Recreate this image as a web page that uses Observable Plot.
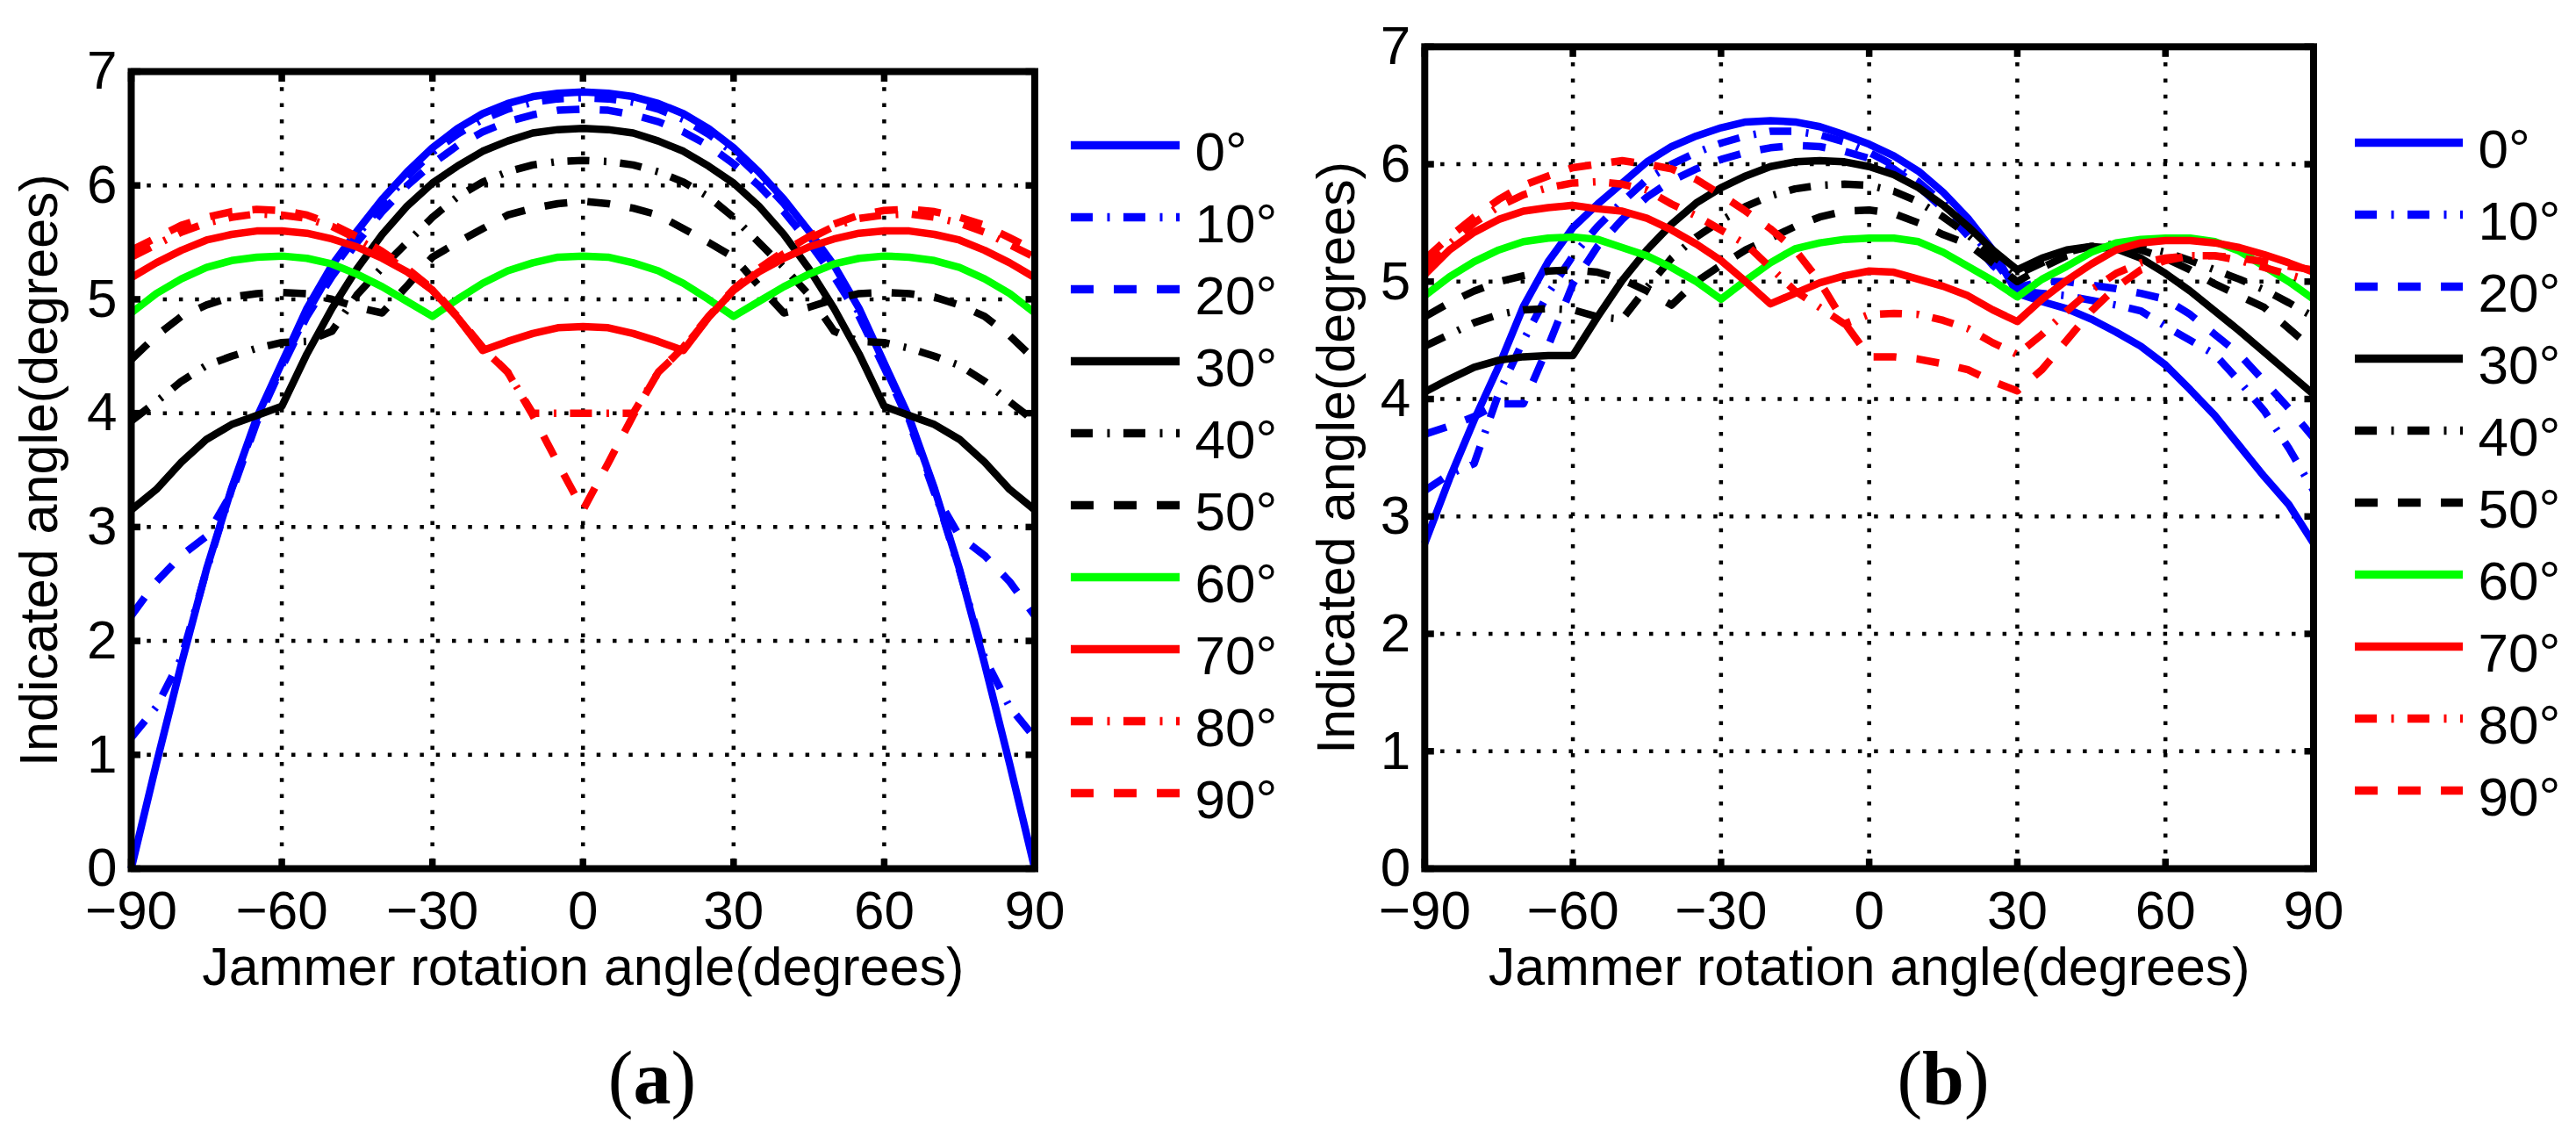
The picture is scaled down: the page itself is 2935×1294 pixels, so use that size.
<!DOCTYPE html>
<html>
<head>
<meta charset="utf-8">
<script src="https://cdn.jsdelivr.net/npm/d3@7"></script>
<script src="https://cdn.jsdelivr.net/npm/@observablehq/plot@0.6"></script>
<style>
html, body { margin: 0; padding: 0; background: #fff; }
#page { position: relative; width: 2935px; height: 1294px; overflow: hidden; background: #fff; }
.abs { position: absolute; top: 0; }
.cap { position: absolute; width: 400px; text-align: center; font-family: "Liberation Serif", "Times New Roman", serif; font-size: 86px; line-height: 86px; color: #000; }
.cap b { font-weight: bold; }
</style>
</head>
<body>
<div id="page"></div>
<script>
// ---------------- data ----------------
const angles = [-90,-85,-80,-75,-70,-65,-60,-55,-50,-45,-40,-35,-30,-25,-20,-15,-10,-5,0,5,10,15,20,25,30,35,40,45,50,55,60,65,70,75,80,85,90];
const xTicks = [-90,-60,-30,0,30,60,90];
const yTicks = [0,1,2,3,4,5,6,7];
const seriesLabels = ["0°","10°","20°","30°","40°","50°","60°","70°","80°","90°"];
const xTitle = "Jammer rotation angle(degrees)";
const yTitle = "Indicated angle(degrees)";
const captionLabels = ["a", "b"];

// panel (a)
const a00 = [0,0.92,1.8,2.63,3.34,3.96,4.44,4.92,5.3,5.6,5.88,6.12,6.33,6.5,6.63,6.72,6.78,6.81,6.82,6.81,6.78,6.72,6.63,6.5,6.33,6.12,5.88,5.6,5.3,4.92,4.44,3.96,3.34,2.63,1.8,0.92,0];
const a10 = [1.15,1.42,1.85,2.62,3.33,3.94,4.42,4.88,5.26,5.56,5.84,6.08,6.29,6.45,6.58,6.67,6.73,6.76,6.77,6.76,6.73,6.67,6.58,6.45,6.29,6.08,5.84,5.56,5.26,4.88,4.42,3.94,3.33,2.62,1.85,1.42,1.15];
const a20 = [2.22,2.52,2.75,2.92,3.3,3.92,4.4,4.85,5.2,5.5,5.77,6.0,6.19,6.35,6.47,6.56,6.62,6.66,6.67,6.66,6.62,6.56,6.47,6.35,6.19,6.0,5.77,5.5,5.2,4.85,4.4,3.92,3.3,2.92,2.75,2.52,2.22];
const a30 = [3.15,3.33,3.57,3.77,3.9,3.98,4.06,4.52,4.92,5.27,5.57,5.82,6.02,6.17,6.3,6.39,6.46,6.49,6.5,6.49,6.46,6.39,6.3,6.17,6.02,5.82,5.57,5.27,4.92,4.52,4.06,3.98,3.9,3.77,3.57,3.33,3.15];
const a40 = [3.93,4.1,4.28,4.42,4.5,4.57,4.62,4.63,4.72,5.04,5.28,5.5,5.72,5.9,6.03,6.12,6.18,6.21,6.22,6.21,6.18,6.12,6.03,5.9,5.72,5.5,5.28,5.04,4.72,4.63,4.62,4.57,4.5,4.42,4.28,4.1,3.93];
const a50 = [4.47,4.68,4.85,4.95,5.02,5.05,5.06,5.05,5.0,4.93,4.88,5.12,5.37,5.5,5.62,5.74,5.8,5.84,5.86,5.84,5.8,5.74,5.62,5.5,5.37,5.12,4.88,4.93,5.0,5.05,5.06,5.05,5.02,4.95,4.85,4.68,4.47];
const a60 = [4.88,5.05,5.18,5.28,5.34,5.37,5.38,5.36,5.31,5.22,5.11,4.98,4.85,5.0,5.14,5.25,5.32,5.37,5.38,5.37,5.32,5.25,5.14,5.0,4.85,4.98,5.11,5.22,5.31,5.36,5.38,5.37,5.34,5.28,5.18,5.05,4.88];
const a70 = [5.19,5.32,5.43,5.52,5.57,5.6,5.6,5.58,5.53,5.46,5.36,5.24,5.08,4.84,4.55,4.63,4.7,4.75,4.76,4.75,4.7,4.63,4.55,4.84,5.08,5.24,5.36,5.46,5.53,5.58,5.6,5.6,5.57,5.52,5.43,5.32,5.19];
const a80 = [5.37,5.48,5.59,5.67,5.72,5.75,5.74,5.71,5.64,5.53,5.4,5.25,5.08,4.84,4.57,4.36,4.0,4.0,4.0,4.0,4.0,4.36,4.57,4.84,5.08,5.25,5.4,5.53,5.64,5.71,5.74,5.75,5.72,5.67,5.59,5.48,5.37];
const a90 = [5.43,5.54,5.65,5.72,5.77,5.79,5.78,5.74,5.66,5.55,5.42,5.27,5.09,4.85,4.58,4.36,3.98,3.56,3.15,3.56,3.98,4.36,4.58,4.85,5.09,5.27,5.42,5.55,5.66,5.74,5.78,5.79,5.77,5.72,5.65,5.54,5.43];

// panel (b)
const b00 = [2.77,3.32,3.82,4.28,4.79,5.17,5.46,5.66,5.84,6.02,6.15,6.24,6.31,6.36,6.37,6.36,6.32,6.25,6.17,6.07,5.94,5.76,5.54,5.27,4.9,4.83,4.77,4.68,4.57,4.45,4.29,4.08,3.86,3.6,3.34,3.1,2.77];
const b10 = [3.22,3.36,3.45,4.05,4.5,4.9,5.22,5.47,5.68,5.87,6.0,6.1,6.18,6.24,6.28,6.28,6.25,6.19,6.1,5.99,5.85,5.67,5.46,5.2,4.92,4.9,4.88,4.84,4.8,4.75,4.62,4.5,4.38,4.15,3.9,3.58,3.22];
const b20 = [3.7,3.77,3.85,3.96,3.96,4.45,4.98,5.3,5.53,5.72,5.86,5.96,6.04,6.1,6.14,6.16,6.15,6.11,6.05,5.96,5.81,5.62,5.39,5.14,4.95,5.0,5.0,4.97,4.94,4.9,4.85,4.72,4.55,4.38,4.15,3.92,3.67];
const b30 = [4.06,4.17,4.27,4.33,4.36,4.37,4.37,4.7,5.01,5.27,5.49,5.67,5.8,5.9,5.98,6.02,6.03,6.02,5.98,5.91,5.8,5.65,5.47,5.27,5.1,5.2,5.27,5.3,5.28,5.2,5.07,4.92,4.75,4.58,4.4,4.22,4.04];
const b40 = [4.45,4.55,4.65,4.72,4.76,4.77,4.76,4.7,4.68,4.95,5.2,5.38,5.52,5.64,5.73,5.79,5.82,5.83,5.82,5.77,5.68,5.55,5.4,5.22,5.06,5.16,5.25,5.3,5.32,5.3,5.25,5.18,5.1,5.02,4.93,4.82,4.7];
const b50 = [4.7,4.82,4.92,5.0,5.05,5.09,5.1,5.08,5.02,4.92,4.8,5.0,5.14,5.27,5.37,5.47,5.55,5.6,5.61,5.58,5.5,5.4,5.32,5.16,5.0,5.12,5.22,5.28,5.3,5.27,5.2,5.1,4.98,4.88,4.78,4.6,4.42];
const b60 = [4.88,5.04,5.17,5.27,5.34,5.37,5.38,5.36,5.29,5.22,5.12,5.0,4.85,5.01,5.16,5.28,5.33,5.36,5.37,5.37,5.34,5.25,5.13,5.01,4.87,5.02,5.13,5.25,5.33,5.36,5.37,5.37,5.34,5.26,5.13,5.0,4.85];
const b70 = [5.06,5.27,5.42,5.53,5.6,5.63,5.65,5.62,5.6,5.54,5.44,5.32,5.18,5.0,4.81,4.9,4.99,5.05,5.09,5.08,5.02,4.96,4.88,4.76,4.66,4.85,5.01,5.15,5.27,5.33,5.35,5.35,5.33,5.29,5.23,5.16,5.08];
const b80 = [5.12,5.32,5.5,5.64,5.74,5.8,5.84,5.85,5.83,5.78,5.66,5.56,5.44,5.32,5.12,4.92,4.78,4.64,4.72,4.73,4.72,4.67,4.6,4.48,4.38,4.55,4.75,4.93,5.07,5.16,5.2,5.22,5.22,5.18,5.12,5.06,5.0];
const b90 = [5.19,5.38,5.55,5.7,5.82,5.9,5.97,6.0,6.03,6.0,5.96,5.87,5.74,5.6,5.45,5.27,5.0,4.65,4.36,4.36,4.34,4.3,4.25,4.15,4.07,4.25,4.5,4.75,4.95,5.1,5.18,5.22,5.22,5.2,5.17,5.13,5.1];

// ---------------- styles ----------------
const DASHDOT = "25,16.5,3,15.5";
const DASHED = "26,23";
const seriesColors = ["#0000ff","#0000ff","#0000ff","#000000","#000000","#000000","#00ff00","#ff0000","#ff0000","#ff0000"];
const seriesDash = [null, DASHDOT, DASHED, null, DASHDOT, DASHED, null, null, DASHDOT, DASHED];
const FONT = "'Liberation Sans', Arial, Helvetica, sans-serif";

function dashOpt(k) { return seriesDash[k] ? {strokeDasharray: seriesDash[k]} : {}; }

function makeLines(vals) {
  return vals.map((v, k) => Plot.line(
    angles.map((x, i) => ({x, y: v[i]})),
    {x: "x", y: "y", stroke: seriesColors[k], strokeWidth: 8.5, strokeLinejoin: "round", strokeLinecap: "butt", ...dashOpt(k)}
  ));
}

function panel({mL, mR, mT, mB, vals, yTitleDx}) {
  const gridStyle = {stroke: "#000", strokeOpacity: 1, strokeWidth: 4.5, strokeDasharray: "4.5,13.8"};
  const tickStyle = {stroke: "#000", fill: "none", strokeWidth: 7.5, tickSize: 11, label: null};
  return Plot.plot({
    width: 1200, height: 1160,
    marginLeft: mL, marginRight: mR, marginTop: mT, marginBottom: mB,
    x: {domain: [-90, 90]},
    y: {domain: [0, 7]},
    style: {fontFamily: FONT, fontSize: "62px", color: "#000", background: "transparent", overflow: "visible"},
    marks: [
      Plot.gridX(xTicks, gridStyle),
      Plot.gridY(yTicks, gridStyle),
      ...makeLines(vals),
      Plot.frame({stroke: "#000", strokeWidth: 8}),
      Plot.axisX(xTicks, {anchor: "bottom", ...tickStyle, dy: -11}),
      Plot.axisX(xTicks, {anchor: "top", ...tickStyle, dy: 11}),
      Plot.axisY(yTicks, {anchor: "left", ...tickStyle, dx: 11}),
      Plot.axisY(yTicks, {anchor: "right", ...tickStyle, dx: -11}),
      Plot.axisX(xTicks, {anchor: "bottom", tickSize: 0, tickPadding: 24, fontSize: 62, fill: "#000", label: null}),
      Plot.axisY(yTicks, {anchor: "left", tickSize: 0, tickPadding: 16, fontSize: 62, fill: "#000", label: null, tickFormat: d3.format("d")}),
      Plot.text([xTitle], {text: d => d, frameAnchor: "bottom", textAnchor: "middle", dy: 89, lineAnchor: "top", fontSize: 61, fill: "#000"}),
      Plot.text([yTitle], {text: d => d, frameAnchor: "left", textAnchor: "middle", lineAnchor: "middle", dx: yTitleDx, rotate: -90, fontSize: 61, fill: "#000"})
    ]
  });
}

function legend({mL, mR, mT, mB}) {
  return Plot.plot({
    width: 280, height: 1000,
    marginLeft: mL, marginRight: mR, marginTop: mT, marginBottom: mB,
    x: {domain: [0, 1], axis: null},
    y: {type: "point", domain: seriesLabels, padding: 0, axis: null},
    style: {fontFamily: FONT, fontSize: "62px", color: "#000", background: "transparent", overflow: "visible"},
    marks: [
      ...seriesLabels.map((s, k) => Plot.ruleY([s], {y: d => d, x1: 0, x2: 1, stroke: seriesColors[k], strokeWidth: 9.5, strokeLinecap: "butt", ...dashOpt(k)})),
      Plot.text(seriesLabels, {x: 1, y: d => d, text: d => d, dx: 17, dy: 9, textAnchor: "start", fontSize: 62, fill: "#000"})
    ]
  });
}

const page = document.getElementById("page");
function place(node, left) {
  const d = document.createElement("div");
  d.className = "abs";
  d.style.left = left + "px";
  d.appendChild(node);
  page.appendChild(d);
}

place(panel({mL: 149, mR: 21.5, mT: 81, mB: 171, vals: [a00,a10,a20,a30,a40,a50,a60,a70,a80,a90], yTitleDx: -104}), 0);
place(legend({mL: 30, mR: 126, mT: 161, mB: 93}), 1190);
place(panel({mL: 157.8, mR: 29.5, mT: 52.8, mB: 171, vals: [b00,b10,b20,b30,b40,b50,b60,b70,b80,b90], yTitleDx: -100}), 1465);
place(legend({mL: 28, mR: 129, mT: 160, mB: 99}), 2655);

[743, 2214].forEach((cx, i) => {
  const c = document.createElement("div");
  c.className = "cap";
  c.style.left = (cx - 200) + "px";
  c.style.top = "1185px";
  c.append("(");
  const b = document.createElement("b");
  b.textContent = captionLabels[i];
  c.append(b, ")");
  page.appendChild(c);
});
</script>
</body>
</html>
